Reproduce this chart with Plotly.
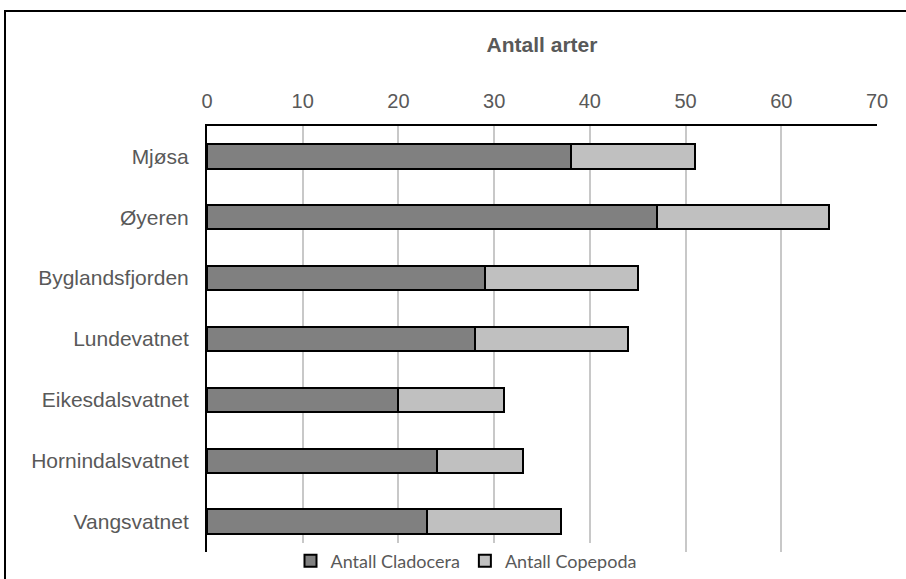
import plotly.graph_objects as go

lakes = ["Mjøsa", "Øyeren", "Byglandsfjorden", "Lundevatnet",
         "Eikesdalsvatnet", "Hornindalsvatnet", "Vangsvatnet"]
cladocera = [38, 47, 29, 28, 20, 24, 23]
copepoda = [13, 18, 16, 16, 11, 9, 14]
x_ticks = [0, 10, 20, 30, 40, 50, 60, 70]

W, H = 906, 579
L, R, T, B = 207, 29, 126, 27

fig = go.Figure()
fig.add_trace(go.Bar(
    y=lakes, x=cladocera, orientation="h", name="Antall Cladocera",
    marker=dict(color="#808080", line=dict(color="#000000", width=2)),
))
fig.add_trace(go.Bar(
    y=lakes, x=copepoda, orientation="h", name="Antall Copepoda",
    marker=dict(color="#C0C0C0", line=dict(color="#000000", width=2)),
))

# outer chart frame, in paper coordinates relative to the plot area
pw, ph = W - L - R, H - T - B
def px_x(p):
    return (p - L) / pw
def px_y(p):
    return (H - B - p) / ph

fig.add_shape(type="rect", xref="paper", yref="paper",
              x0=px_x(5), x1=px_x(915), y0=px_y(11), y1=px_y(600),
              line=dict(color="#000000", width=2), layer="above")

fig.update_layout(
    width=W, height=H,
    margin=dict(l=L, r=R, t=T, b=B, autoexpand=False),
    barmode="stack", bargap=0.6,
    plot_bgcolor="white", paper_bgcolor="white",
    font=dict(family="Liberation Sans, Arial, sans-serif", color="#595959", size=20),
    title=dict(text="<b>Antall arter</b>", x=(L + pw / 2) / W, xanchor="center",
               y=1 - 45 / H, yanchor="middle",
               font=dict(size=21, color="#595959")),
    xaxis=dict(
        side="top", range=[0, 70], tickvals=x_ticks, ticktext=[str(v) for v in x_ticks],
        showgrid=True, gridcolor="#C8C8C8", gridwidth=1.5,
        showline=True, linecolor="#000000", linewidth=2,
        ticks="", ticklabelstandoff=8, zeroline=False,
        tickfont=dict(size=20, color="#595959"),
    ),
    yaxis=dict(
        autorange="reversed", showline=True, linecolor="#000000", linewidth=2,
        ticks="", ticklabelstandoff=12, showgrid=False,
        tickfont=dict(size=21, color="#595959"),
    ),
    legend=dict(orientation="h", x=466 / W, xanchor="center",
                xref="container", yref="container",
                y=1 - 561 / H, yanchor="middle", traceorder="normal",
                font=dict(family="Lato, Open Sans, sans-serif", size=18, color="#595959"),
                itemwidth=30, tracegroupgap=0),
)

fig.write_html("out.html")
